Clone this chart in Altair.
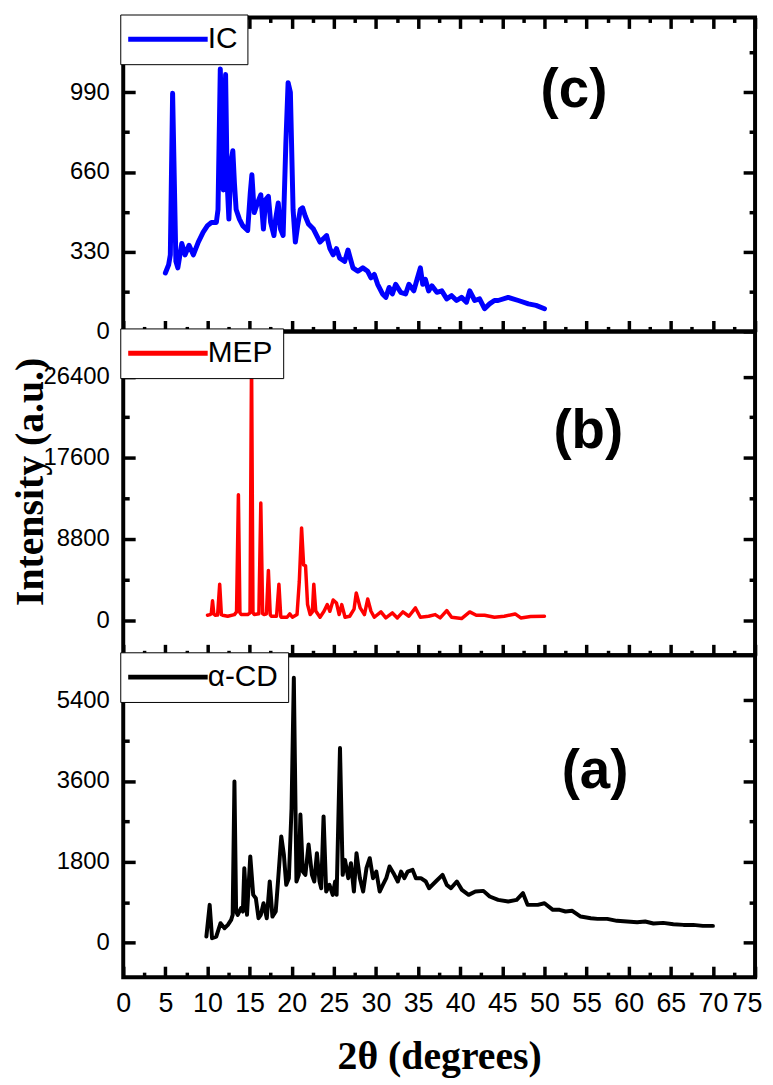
import altair as alt
import pandas as pd

# ---------------- data ----------------
ic_x = [5.0, 5.39, 5.59, 5.86, 6.25, 6.48, 6.95, 7.34, 7.81, 8.32, 8.91, 9.49, 10.0, 10.47,
        11.05, 11.25, 11.52, 11.88, 12.15, 12.34, 12.54, 12.81, 13.01, 13.2, 13.4, 13.79,
        14.18, 14.77, 15.08, 15.27, 15.55, 15.94, 16.33, 16.64, 16.91, 17.23, 17.5, 17.89,
        18.09, 18.4, 18.67, 18.98, 19.3, 19.57, 19.84, 20.16, 20.43, 20.7, 21.02, 21.29,
        21.6, 21.99, 22.58, 22.97, 23.36, 23.75, 24.14, 24.53, 24.92, 25.31, 25.7, 26.29,
        26.68, 27.27, 27.85, 28.44, 29.02, 29.41, 29.8, 30.2, 30.78, 31.17, 31.56, 31.95,
        32.34, 32.93, 33.52, 33.91, 34.49, 34.88, 35.27, 35.55, 35.86, 36.25, 36.64, 37.23,
        37.81, 38.4, 38.98, 39.57, 40.16, 40.74, 41.13, 41.72, 42.3, 42.89, 43.48, 44.06,
        44.5, 45.7, 46.9, 48.1, 49.0, 50.0]
ic_y = [242, 276, 317, 986, 290, 263, 364, 317, 357, 317, 370, 411, 438, 451,
        451, 505, 1087, 586, 1064, 613, 465, 707, 748, 613, 505, 465,
        438, 418, 573, 649, 492, 532, 566, 424, 546, 559, 451, 397,
        465, 532, 424, 397, 775, 1030, 990, 505, 370, 438, 505, 512,
        478, 445, 424, 397, 370, 384, 397, 343, 317, 343, 303, 290,
        337, 263, 249, 263, 249, 222, 236, 195, 155, 141, 182, 155,
        195, 162, 155, 195, 168, 216, 263, 195, 216, 168, 189, 162,
        168, 135, 148, 128, 141, 121, 168, 128, 135, 94, 114, 128,
        128, 141, 128, 114, 108, 94]

mep_x = [10.0, 10.3, 10.45, 10.6, 10.75, 10.9, 11.2, 11.45, 11.65, 11.8, 12.4, 13.2, 13.45,
         13.67, 13.85, 14.0, 14.77, 15.05, 15.23, 15.4, 15.55, 16.1, 16.33, 16.55, 16.72,
         17.0, 17.23, 17.45, 17.58, 18.2, 18.48, 18.7, 18.75, 19.45, 19.77, 20.08, 20.63,
         20.9, 21.17, 21.41, 21.64, 21.88, 22.19, 22.45, 22.62, 22.85, 23.36, 23.83, 24.22,
         24.53, 24.92, 25.31, 25.63, 25.94, 26.33, 26.88, 27.4, 27.66, 28.13, 28.63, 29.02,
         29.41, 29.8, 30.59, 31.17, 31.95, 32.54, 33.2, 33.91, 34.69, 35.27, 36.25, 37.03,
         37.62, 38.4, 38.98, 40.16, 41.13, 41.91, 42.89, 44.06, 45.23, 46.52, 47.19, 48.36, 50.0]
mep_y = [540, 600, 700, 2100, 700, 540, 560, 3900, 600, 540, 430, 610, 900,
         13600, 800, 610, 610, 800, 28500, 800, 610, 700, 12700, 700, 610,
         700, 5400, 600, 430, 430, 3900, 400, 320, 320, 680, 320, 610,
         4200, 10000, 6000, 5900, 1700, 610, 900, 3900, 1000, 320, 970, 1700,
         970, 2200, 1870, 610, 1690, 320, 430, 1200, 2950, 1330, 610, 2300,
         970, 320, 900, 250, 790, 250, 900, 430, 1330, 320, 430, 610,
         250, 1040, 320, 180, 900, 540, 540, 320, 430, 680, 250, 400, 430]

acd_x = [9.87, 10.26, 10.54, 11.04, 11.55, 12.03, 12.42, 12.81, 12.99, 13.2, 13.4, 13.59,
         13.98, 14.2, 14.37, 14.69, 15.08, 15.43, 15.74, 16.06, 16.33, 16.65, 17.04, 17.39,
         17.71, 18.1, 18.37, 18.76, 19.07, 19.35, 19.66, 19.98, 20.25, 20.56, 20.84, 21.03,
         21.31, 21.62, 22.0, 22.4, 22.68, 22.99, 23.3, 23.5, 23.78, 24.09, 24.48, 24.87,
         25.15, 25.33, 25.73, 26.05, 26.32, 26.71, 27.03, 27.38, 27.69, 28.09, 28.48, 28.87,
         29.26, 29.65, 30.04, 30.44, 30.82, 31.22, 31.61, 32.08, 32.59, 32.98, 33.37, 33.76,
         34.35, 34.74, 35.33, 35.92, 36.3, 37.1, 37.9, 38.4, 38.9, 39.6, 40.2, 41.0, 41.8,
         42.75, 43.5, 44.5, 45.7, 46.7, 47.45, 48.0, 49.2, 50.0, 51.0, 51.8, 52.5, 53.3,
         54.3, 55.5, 56.3, 57.45, 58.6, 59.8, 61.0, 61.96, 62.94, 64.1, 65.3, 66.5, 67.65,
         68.8, 70.0]
acd_y = [134, 840, 97, 134, 431, 320, 394, 506, 617, 3590, 691, 617,
         766, 691, 1657, 617, 1918, 1063, 989, 543, 617, 877, 543, 1360,
         580, 692, 1360, 2364, 1955, 1286, 1434, 2995, 5900, 1360, 1508, 2854,
         1583, 1508, 2185, 1508, 1360, 1992, 1360, 1211, 2810, 1137, 1286, 1063,
         1360, 1063, 4333, 1508, 1843, 1434, 1769, 1137, 1992, 1434, 1137, 1657,
         1880, 1434, 1583, 1137, 1286, 1434, 1694, 1546, 1360, 1583, 1434, 1583,
         1620, 1434, 1434, 1360, 1211, 1360, 1508, 1286, 1211, 1360, 1174, 1063, 1137,
         1152, 1026, 951, 914, 951, 1100, 840, 840, 877, 729, 729, 692, 707,
         580, 543, 528, 528, 484, 469, 454, 469, 424, 439, 409, 394, 394,
         372, 372]

x_domain = [0, 75]
x_major = [0, 5, 10, 15, 20, 25, 30, 35, 40, 45, 50, 55, 60, 65, 70, 75]
x_ticks = [i * 2.5 for i in range(31)]

c_domain = [0, 1300]
c_major = [0, 330, 660, 990]
c_ticks = [0, 165, 330, 495, 660, 825, 990, 1155]
b_domain = [-3800, 31300]
b_major = [0, 8800, 17600, 26400]
b_ticks = [0, 4400, 8800, 13200, 17600, 22000, 26400]
a_domain = [-770, 6400]
a_major = [0, 1800, 3600, 5400]
a_ticks = [0, 900, 1800, 2700, 3600, 4500, 5400]

tags = ["(c)", "(b)", "(a)"]
tag_x = [53.5, 55.2, 56.0]
tag_y = [1000, 20500, 3810]

W = 636
H_C, H_B, H_A = 316, 326, 324

SANS = "Liberation Sans, Arial, sans-serif"
SERIF = "Liberation Serif, Times New Roman, serif"


def tsize(mod, big, small):
    return {"condition": {"test": f"datum.value % {mod} === 0", "value": big}, "value": small}


def panel(xs, ys, name, color, sw, ydom, ymajor, yticks, ymod, H, tag, tx, ty,
          bottom_labels=False, top_ticks=False, ytitle=None):
    df = pd.DataFrame({"x": xs, "y": ys, "s": [name] * len(xs)})
    xsc = alt.Scale(domain=x_domain, nice=False, zero=False)
    ysc = alt.Scale(domain=ydom, nice=False, zero=False)

    if bottom_labels:
        xax = alt.Axis(orient="bottom", values=x_major, ticks=False, domain=False, grid=False,
                       labelFont=SANS, labelFontSize=27, labelColor="black",
                       labelPadding=14, labelFlush=False, labelOverlap=False,
                       labelOffset={"condition": {"test": "datum.value === 75", "value": -8},
                                    "value": 0},
                       titleFont=SERIF, titleFontSize=40, titleFontWeight="bold",
                       titleColor="black", titlePadding=20)
        xenc = alt.X("x:Q", scale=xsc, axis=xax, title="2θ (degrees)")
    else:
        xenc = alt.X("x:Q", scale=xsc, axis=None)

    ykw = dict(orient="left", values=ymajor, ticks=False, domain=False, grid=False,
               labelFont=SANS, labelFontSize=24, labelColor="black", labelPadding=14,
               labelFlush=False, labelOverlap=False, format="d")
    if ytitle:
        yax = alt.Axis(titleFont=SERIF, titleFontSize=40, titleFontWeight="bold",
                       titleColor="black", titleX=-81, titleY=151,
                       titleBaseline="alphabetic", **ykw)
        yenc = alt.Y("y:Q", scale=ysc, axis=yax, title=ytitle)
    else:
        yenc = alt.Y("y:Q", scale=ysc, axis=alt.Axis(**ykw), title=None)

    legend = alt.Legend(orient="none", legendX=-3, legendY=-3, title=None,
                        symbolType="M-3.2,0H3.2", symbolSize=625, symbolStrokeWidth=5,
                        symbolOffset=23, labelOffset=25, padding=10,
                        fillColor="white", strokeColor="black",
                        labelFont=SANS, labelFontSize=30, labelColor="black")

    line = alt.Chart(df).mark_line(strokeWidth=sw, strokeJoin="round", strokeCap="round").encode(
        x=xenc, y=yenc,
        color=alt.Color("s:N", scale=alt.Scale(domain=[name], range=[color]), legend=legend),
    )

    tick_common = dict(labels=False, domain=False, grid=False, tickColor="black", tickWidth=3.5,
                       minExtent=0, maxExtent=0)
    t1 = alt.Chart(df).mark_line(strokeOpacity=0).encode(
        x=alt.X("x:Q", scale=xsc, title=None,
                axis=alt.Axis(orient="top", offset=-H, values=x_ticks,
                              tickSize=tsize(5, 11, 5), **tick_common)),
        y=alt.Y("y:Q", scale=ysc, title=None,
                axis=alt.Axis(orient="right", offset=-W, values=yticks,
                              tickSize=tsize(ymod, 12, 6), **tick_common)),
    )
    if top_ticks:
        x2 = alt.X("x:Q", scale=xsc, title=None,
                   axis=alt.Axis(orient="bottom", offset=-H, values=x_ticks,
                                 tickSize=tsize(5, 11, 5), **tick_common))
    else:
        x2 = alt.X("x:Q", scale=xsc, axis=None)
    t2 = alt.Chart(df).mark_line(strokeOpacity=0).encode(
        x=x2,
        y=alt.Y("y:Q", scale=ysc, title=None,
                axis=alt.Axis(orient="left", offset=-W, values=yticks,
                              tickSize=tsize(ymod, 12, 6), **tick_common)),
    )

    tdf = pd.DataFrame({"x": [tx], "y": [ty], "t": [tag]})
    txt = alt.Chart(tdf).mark_text(font=SANS, fontSize=55, fontWeight="bold", color="black",
                                    align="center", baseline="middle").encode(
        x=alt.X("x:Q", scale=xsc, axis=None),
        y=alt.Y("y:Q", scale=ysc, axis=None),
        text="t:N",
    )

    return alt.layer(line, t1, t2, txt).resolve_scale(
        x="independent", y="independent").properties(width=W, height=H)


pc = panel(ic_x, ic_y, "IC", "#0000ff", 5.0, c_domain, c_major, c_ticks, 330, H_C,
           tags[0], tag_x[0], tag_y[0], top_ticks=True)
pb = panel(mep_x, mep_y, "MEP", "#ff0000", 3.5, b_domain, b_major, b_ticks, 8800, H_B,
           tags[1], tag_x[1], tag_y[1], ytitle="Intensity (a.u.)")
pa = panel(acd_x, acd_y, "α-CD", "#000000", 4.0, a_domain, a_major, a_ticks, 1800, H_A,
           tags[2], tag_x[2], tag_y[2], bottom_labels=True)

chart = alt.vconcat(pc, pb, pa, spacing=0, bounds="flush").resolve_scale(
    color="independent"
).properties(
    padding={"left": 0, "top": 0, "right": 0, "bottom": 0}
).configure_view(stroke="black", strokeWidth=4)

chart.save("out.html", embed_options={"renderer": "svg", "actions": False})
